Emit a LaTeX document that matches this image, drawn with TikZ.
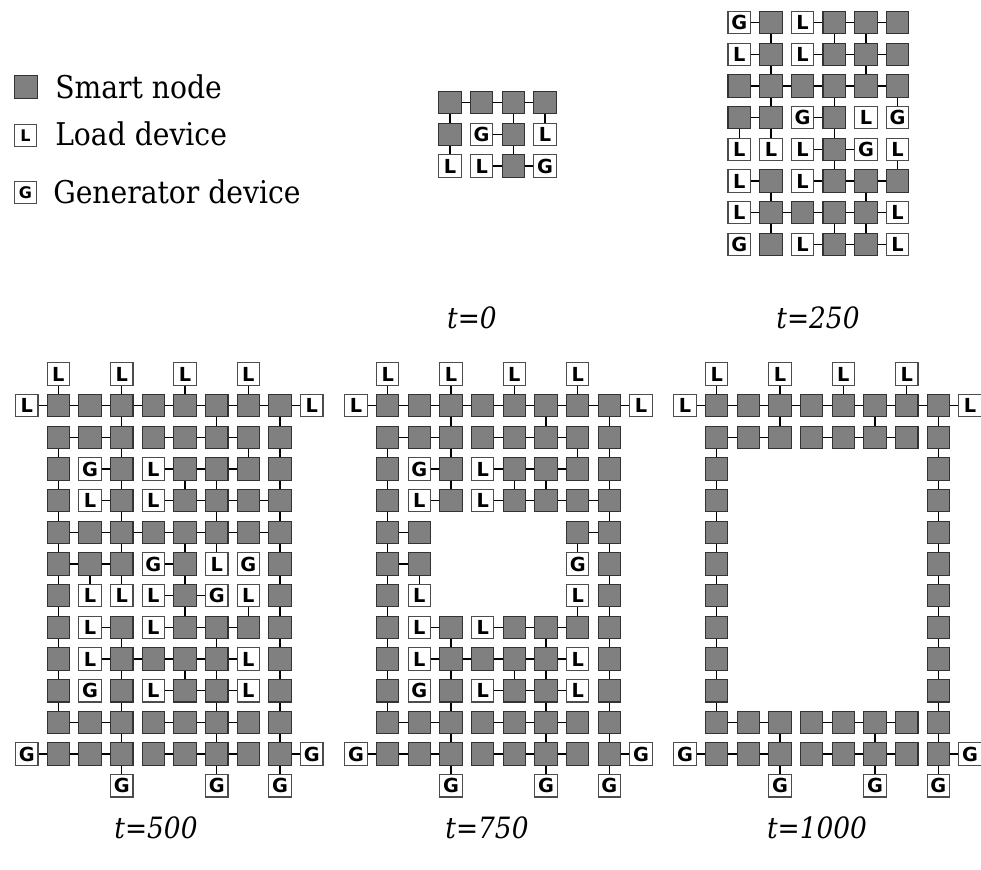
\documentclass[tikz,border=0pt]{standalone}
\usepackage{fontspec}
\usetikzlibrary{backgrounds}
\setmainfont{DejaVu Serif}[FakeStretch=0.9]
\newfontfamily\devfont{DejaVu Sans}
\tikzset{
  smart/.style={draw=black!80, fill=black!50, line width=0.8pt, minimum size=16.9pt, inner sep=0pt},
  dev/.style={draw=black!70, fill=white, line width=0.8pt, minimum size=16.9pt, inner sep=0pt,
    font=\devfont\bfseries\fontsize{14.5}{14.5}\selectfont},
  legdev/.style={dev, minimum width=16.8pt, minimum height=16pt, font=\devfont\bfseries\fontsize{12}{12}\selectfont},
  link/.style={draw=black, line width=0.9pt},
  lbl/.style={font=\fontsize{22}{22}\selectfont\itshape, inner sep=0pt},
  leg/.style={font=\fontsize{23.5}{23.5}\selectfont, anchor=base west, inner sep=0pt}
}
\newcommand\gridrow[5]{%
  \foreach \ty [count=\cc from 0] in {#5}{%
    \pgfmathsetmacro\xx{#2+\cc*31.67}%
    \pgfmathsetmacro\yy{#3+#4*31.67}%
    \if\ty S\node[smart] (#1-#4-\cc) at (\xx,\yy) {};\fi
    \if\ty L\node[dev] (#1-#4-\cc) at (\xx,\yy) {L};\fi
    \if\ty G\node[dev] (#1-#4-\cc) at (\xx,\yy) {G};\fi
  }}
\newcommand\hlinks[3]{\begin{pgfonlayer}{background}\foreach \cc in {#3}{\pgfmathtruncatemacro\dd{\cc+1}\draw[link] (#1-#2-\cc) -- (#1-#2-\dd);}\end{pgfonlayer}}
\newcommand\vlinks[3]{\begin{pgfonlayer}{background}\pgfmathtruncatemacro\rr{#2+1}\foreach \cc in {#3}{\draw[link] (#1-#2-\cc) -- (#1-\rr-\cc);}\end{pgfonlayer}}
\begin{document}
\begin{tikzpicture}[x=0.75pt,y=-0.75pt]
\useasboundingbox (0,0) rectangle (981,870);
% legend
\node[smart, minimum size=17.3pt] (ls) at (26,87) {};
\node[leg] (lt1) at (55,98.5) {Smart node};
\node[legdev] (ll) at (25.5,135.5) {L};
\node[leg] (lt2) at (55,146) {Load device};
\node[legdev] (lg) at (25.5,192.5) {G};
\node[leg] (lt3) at (53,203) {Generator device};
% t=0
\gridrow{A}{418.33}{71}{1}{N,S,S,S,S}
\gridrow{A}{418.33}{71}{2}{N,S,G,S,L}
\gridrow{A}{418.33}{71}{3}{N,L,L,S,G}
\hlinks{A}{1}{1,2,3}
\hlinks{A}{2}{2}
\hlinks{A}{3}{2,3}
\vlinks{A}{1}{1,3,4}
\vlinks{A}{2}{1,3}
% t=250
\gridrow{B}{707.6}{-9}{1}{N,G,S,L,S,S,S}
\gridrow{B}{707.6}{-9}{2}{N,L,S,L,S,S,S}
\gridrow{B}{707.6}{-9}{3}{N,S,S,S,S,S,S}
\gridrow{B}{707.6}{-9}{4}{N,S,S,G,S,L,G}
\gridrow{B}{707.6}{-9}{5}{N,L,L,L,S,G,L}
\gridrow{B}{707.6}{-9}{6}{N,L,S,L,S,S,S}
\gridrow{B}{707.6}{-9}{7}{N,L,S,S,S,S,L}
\gridrow{B}{707.6}{-9}{8}{N,G,S,L,S,S,L}
\hlinks{B}{1}{1,3,4,5}
\hlinks{B}{2}{1,3,4,5}
\hlinks{B}{3}{1,2,3,4,5}
\hlinks{B}{4}{1,3}
\hlinks{B}{5}{3,4}
\hlinks{B}{6}{1,3,4,5}
\hlinks{B}{7}{1,2,3,4,5}
\hlinks{B}{8}{3,4,5}
\vlinks{B}{1}{2,4,5}
\vlinks{B}{2}{2,5}
\vlinks{B}{3}{2,4,6}
\vlinks{B}{4}{1,2,4}
\vlinks{B}{5}{4,6}
\vlinks{B}{6}{2,5}
\vlinks{B}{7}{2,4,5}
% t=500
\gridrow{C}{26.7}{374}{0}{N,L,N,L,N,L,N,L,N,N}
\gridrow{C}{26.7}{374}{1}{L,S,S,S,S,S,S,S,S,L}
\gridrow{C}{26.7}{374}{2}{N,S,S,S,S,S,S,S,S,N}
\gridrow{C}{26.7}{374}{3}{N,S,G,S,L,S,S,S,S,N}
\gridrow{C}{26.7}{374}{4}{N,S,L,S,L,S,S,S,S,N}
\gridrow{C}{26.7}{374}{5}{N,S,S,S,S,S,S,S,S,N}
\gridrow{C}{26.7}{374}{6}{N,S,S,S,G,S,L,G,S,N}
\gridrow{C}{26.7}{374}{7}{N,S,L,L,L,S,G,L,S,N}
\gridrow{C}{26.7}{374}{8}{N,S,L,S,L,S,S,S,S,N}
\gridrow{C}{26.7}{374}{9}{N,S,L,S,S,S,S,L,S,N}
\gridrow{C}{26.7}{374}{10}{N,S,G,S,L,S,S,L,S,N}
\gridrow{C}{26.7}{374}{11}{N,S,S,S,S,S,S,S,S,N}
\gridrow{C}{26.7}{374}{12}{G,S,S,S,S,S,S,S,S,G}
\gridrow{C}{26.7}{374}{13}{N,N,N,G,N,N,G,N,G,N}
\vlinks{C}{0}{1,3,5,7}
\hlinks{C}{1}{0,1,2,3,4,5,6,7,8}
\vlinks{C}{1}{3,6,8}
\hlinks{C}{2}{1,2,4,5,6}
\vlinks{C}{2}{1,3,7,8}
\hlinks{C}{3}{2,4,5,6}
\vlinks{C}{3}{1,3,5,6,8}
\hlinks{C}{4}{2,4,5,6,7}
\vlinks{C}{4}{1,3,6,8}
\hlinks{C}{5}{1,2,3,4,5,6,7}
\vlinks{C}{5}{1,3,5,6,8}
\hlinks{C}{6}{1,2,4}
\vlinks{C}{6}{1,2,3,5,8}
\hlinks{C}{7}{4,5}
\vlinks{C}{7}{1,5,7,8}
\hlinks{C}{8}{2,4,5,6}
\vlinks{C}{8}{1,3,6,8}
\hlinks{C}{9}{2,3,4,5,6}
\vlinks{C}{9}{1,3,5,6,8}
\hlinks{C}{10}{4,5,6}
\vlinks{C}{10}{1,3,6,8}
\hlinks{C}{11}{1,2,4,5,6}
\vlinks{C}{11}{3,6,8}
\hlinks{C}{12}{0,1,2,4,5,6,8}
\vlinks{C}{12}{3,6,8}
% t=750
\gridrow{D}{356}{374}{0}{N,L,N,L,N,L,N,L,N,N}
\gridrow{D}{356}{374}{1}{L,S,S,S,S,S,S,S,S,L}
\gridrow{D}{356}{374}{2}{N,S,S,S,S,S,S,S,S,N}
\gridrow{D}{356}{374}{3}{N,S,G,S,L,S,S,S,S,N}
\gridrow{D}{356}{374}{4}{N,S,L,S,L,S,S,S,S,N}
\gridrow{D}{356}{374}{5}{N,S,S,N,N,N,N,S,S,N}
\gridrow{D}{356}{374}{6}{N,S,S,N,N,N,N,G,S,N}
\gridrow{D}{356}{374}{7}{N,S,L,N,N,N,N,L,S,N}
\gridrow{D}{356}{374}{8}{N,S,L,S,L,S,S,S,S,N}
\gridrow{D}{356}{374}{9}{N,S,L,S,S,S,S,L,S,N}
\gridrow{D}{356}{374}{10}{N,S,G,S,L,S,S,L,S,N}
\gridrow{D}{356}{374}{11}{N,S,S,S,S,S,S,S,S,N}
\gridrow{D}{356}{374}{12}{G,S,S,S,S,S,S,S,S,G}
\gridrow{D}{356}{374}{13}{N,N,N,G,N,N,G,N,G,N}
\vlinks{D}{0}{1,3,5,7}
\hlinks{D}{1}{0,1,2,3,4,5,6,7,8}
\vlinks{D}{1}{3,6,8}
\hlinks{D}{2}{1,2,4,5,6}
\vlinks{D}{2}{1,3,7,8}
\hlinks{D}{3}{2,4,5,6}
\vlinks{D}{3}{1,3,5,6,8}
\hlinks{D}{4}{2,4,5,6,7}
\vlinks{D}{4}{1,8}
\hlinks{D}{5}{1,7}
\vlinks{D}{5}{1,7,8}
\hlinks{D}{6}{1}
\vlinks{D}{6}{1,2,8}
\vlinks{D}{7}{1,7,8}
\hlinks{D}{8}{2,4,5,6}
\vlinks{D}{8}{1,3,6,8}
\hlinks{D}{9}{2,3,4,5,6}
\vlinks{D}{9}{1,3,5,6,8}
\hlinks{D}{10}{4,5,6}
\vlinks{D}{10}{1,3,6,8}
\hlinks{D}{11}{1,2,4,5,6}
\vlinks{D}{11}{3,6,8}
\hlinks{D}{12}{0,1,2,4,5,6,8}
\vlinks{D}{12}{3,6,8}
% t=1000
\gridrow{E}{685}{374}{0}{N,L,N,L,N,L,N,L,N,N}
\gridrow{E}{685}{374}{1}{L,S,S,S,S,S,S,S,S,L}
\gridrow{E}{685}{374}{2}{N,S,S,S,S,S,S,S,S,N}
\foreach \r in {3,...,10}{\gridrow{E}{685}{374}{\r}{N,S,N,N,N,N,N,N,S,N}}
\gridrow{E}{685}{374}{11}{N,S,S,S,S,S,S,S,S,N}
\gridrow{E}{685}{374}{12}{G,S,S,S,S,S,S,S,S,G}
\gridrow{E}{685}{374}{13}{N,N,N,G,N,N,G,N,G,N}
\vlinks{E}{0}{1,3,5,7}
\hlinks{E}{1}{0,1,2,3,4,5,6,7,8}
\vlinks{E}{1}{3,6,8}
\hlinks{E}{2}{1,2,4,5,6}
\foreach \r in {2,...,10}{\vlinks{E}{\r}{1,8}}
\hlinks{E}{11}{1,2,4,5,6}
\vlinks{E}{11}{3,6,8}
\hlinks{E}{12}{0,1,2,4,5,6,8}
\vlinks{E}{12}{3,6,8}
% labels
\node[lbl] (l0) at (472,318) {t=0};
\node[lbl] (l250) at (818,318) {t=250};
\node[lbl] (l500) at (156,828) {t=500};
\node[lbl] (l750) at (487,828) {t=750};
\node[lbl] (l1000) at (817,828) {t=1000};
\end{tikzpicture}
\end{document}
